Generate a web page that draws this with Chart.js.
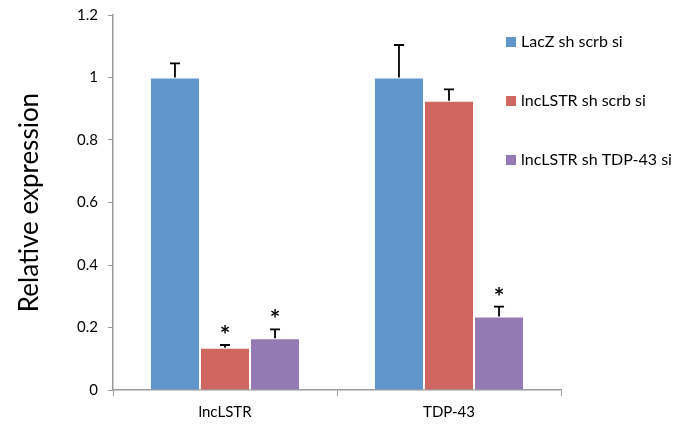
<!DOCTYPE html>
<html><head><meta charset="utf-8">
<script src="https://cdn.jsdelivr.net/npm/chart.js@4"></script>
<style>html,body{margin:0;padding:0;background:#fff}#wrap{width:689px;height:427px}</style>
</head><body><div id="wrap"><canvas id="c" width="689" height="427"></canvas></div>
<script>
const categories = ["lncLSTR", "TDP-43"];
const seriesNames = ["LacZ sh scrb si", "lncLSTR sh scrb si", "lncLSTR sh TDP-43 si"];
const lacZ = [1.0, 1.0];
const lncScrb = [0.135, 0.926];
const lncTDP = [0.166, 0.235];
const lacZErr = [0.045, 0.104];
const lncScrbErr = [0.009, 0.036];
const lncTDPErr = [0.028, 0.032];
const significant = [[false, false], [true, false], [true, true]];
const yTicks = [0, 0.2, 0.4, 0.6, 0.8, 1, 1.2];
const colors = ["rgb(97,150,204)", "rgb(207,102,95)", "rgb(148,122,178)"];
const errs = [lacZErr, lncScrbErr, lncTDPErr];
const FONT = "Lato, 'Open Sans', sans-serif";

const overlay = {
  id: 'overlay',
  afterDatasetsDraw(chart) {
    const ctx = chart.ctx;
    const y = chart.scales.y;
    ctx.save();
    chart.data.datasets.forEach((ds, di) => {
      const meta = chart.getDatasetMeta(di);
      meta.data.forEach((bar, i) => {
        const v = ds.data[i];
        const e = errs[di][i];
        const x = bar.x;
        const y0 = y.getPixelForValue(v);
        const y1 = y.getPixelForValue(v + e);
        ctx.strokeStyle = '#000';
        ctx.lineWidth = 1.8;
        ctx.beginPath();
        ctx.moveTo(x, y0); ctx.lineTo(x, y1);
        ctx.moveTo(x - 5, y1); ctx.lineTo(x + 5, y1);
        ctx.stroke();
        if (significant[di][i]) {
          ctx.fillStyle = '#000';
          ctx.font = "bold 25px " + FONT;
          ctx.textAlign = 'center';
          ctx.textBaseline = 'middle';
          ctx.fillText('*', x, y1 - 9);
        }
      });
    });
    // legend
    ctx.font = "16px " + FONT;
    ctx.textAlign = 'left';
    ctx.textBaseline = 'middle';
    seriesNames.forEach((n, i) => {
      const ly = 42 + i * 59;
      ctx.fillStyle = colors[i];
      ctx.fillRect(506, ly - 5, 10, 10);
      ctx.fillStyle = '#000';
      ctx.fillText(n, 521, ly);
    });
    ctx.restore();
  }
};

const datasets = [lacZ, lncScrb, lncTDP].map((d, i) => ({
  label: seriesNames[i], data: d, backgroundColor: colors[i],
  borderColor: 'rgba(255,255,255,0.8)', borderWidth: 1,
  categoryPercentage: 0.67, barPercentage: 1.0
}));

new Chart(document.getElementById('c'), {
  type: 'bar',
  data: { labels: categories, datasets },
  options: {
    responsive: false, animation: false,
    layout: { padding: { top: 15, right: 128, left: 0, bottom: 0 } },
    plugins: { legend: { display: false }, tooltip: { enabled: false } },
    scales: {
      x: {
        grid: { display: true, drawOnChartArea: false, drawTicks: true, tickLength: 6, color: '#9a9a9a', offset: true },
        border: { color: '#9a9a9a', width: 1.5 },
        ticks: { color: '#000', font: { size: 15, family: FONT }, padding: 7 },
        afterFit(s) { s.height = 37; }
      },
      y: {
        min: 0, max: 1.2,
        afterBuildTicks(s) { s.ticks = yTicks.map(v => ({ value: v })); },
        grid: { display: true, drawOnChartArea: false, drawTicks: true, tickLength: 5, color: '#9a9a9a' },
        border: { color: '#9a9a9a', width: 1.5 },
        ticks: { color: '#000', font: { size: 15, family: FONT }, padding: 10, callback: v => String(v) },
        title: { display: true, text: 'Relative expression', color: '#000', font: { size: 26, family: FONT }, padding: { top: 14, bottom: 18 } },
        afterFit(s) { s.width = 113; s.paddingTop = 0; s.paddingBottom = 0; }
      }
    }
  },
  plugins: [overlay]
});
</script></body></html>
